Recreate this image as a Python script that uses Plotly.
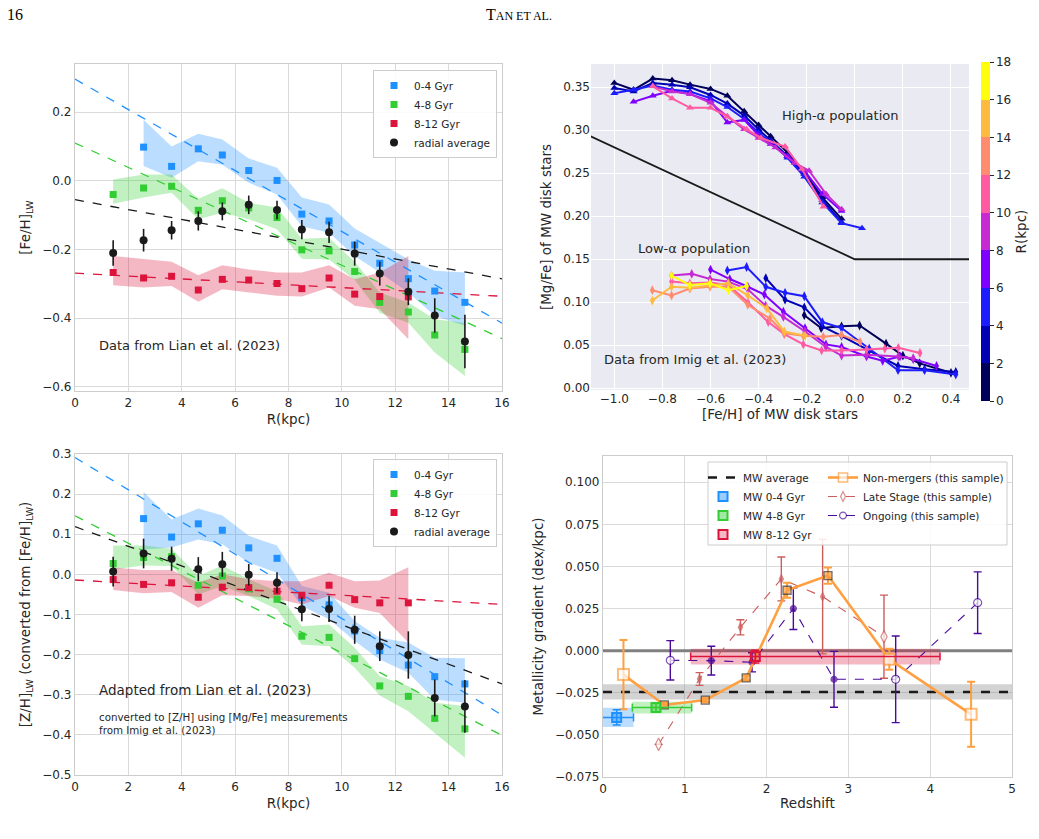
import plotly.graph_objects as go

W, H = 1039, 839


def fx(p):
    return p / W


def fy(p):
    return 1 - p / H


# ---------------- Panel A / C : radial bins (Lian et al. 2023) ----------------
R_KPC = [1.43, 2.57, 3.62, 4.62, 5.52, 6.51, 7.57, 8.50, 9.52, 10.48, 11.42, 12.49, 13.48, 14.61]
R_YOUNG = R_KPC[1:]
R_OLD = R_KPC[:12]

# [Fe/H]_LW
FEH_YOUNG = [0.098, 0.042, 0.093, 0.075, 0.030, 0.001, -0.097, -0.117, -0.187, -0.240, -0.285, -0.321, -0.354]
FEH_YOUNG_HI = [0.178, 0.100, 0.137, 0.120, 0.065, 0.038, -0.049, -0.069, -0.139, -0.182, -0.229, -0.262, -0.267]
FEH_YOUNG_LO = [0.043, 0.009, 0.057, 0.047, -0.006, -0.040, -0.132, -0.151, -0.219, -0.267, -0.325, -0.393, -0.422]
FEH_MID = [-0.040, -0.021, -0.016, -0.086, -0.058, -0.079, -0.107, -0.201, -0.204, -0.264, -0.354, -0.382, -0.449, -0.491]
FEH_MID_HI = [0.004, 0.018, 0.018, -0.052, -0.022, -0.064, -0.078, -0.169, -0.166, -0.236, -0.325, -0.354, -0.403, -0.413]
FEH_MID_LO = [-0.067, -0.049, -0.035, -0.112, -0.093, -0.112, -0.141, -0.227, -0.229, -0.289, -0.384, -0.413, -0.500, -0.568]
FEH_OLD = [-0.267, -0.283, -0.278, -0.318, -0.287, -0.289, -0.299, -0.314, -0.283, -0.330, -0.337, -0.338]
FEH_OLD_HI = [-0.219, -0.229, -0.236, -0.275, -0.246, -0.258, -0.267, -0.267, -0.246, -0.287, -0.267, -0.219]
FEH_OLD_LO = [-0.304, -0.311, -0.306, -0.352, -0.316, -0.325, -0.335, -0.337, -0.311, -0.364, -0.374, -0.461]
FEH_AVG = [-0.210, -0.173, -0.144, -0.117, -0.089, -0.070, -0.085, -0.142, -0.150, -0.212, -0.270, -0.323, -0.392, -0.468]
FEH_AVG_ERR = [0.037, 0.033, 0.027, 0.028, 0.026, 0.027, 0.027, 0.028, 0.031, 0.035, 0.035, 0.039, 0.050, 0.078]
# linear fits (intercept, slope)
FEH_FIT_INT = {"young": 0.296, "mid": 0.110, "old": -0.269, "avg": -0.055}
FEH_FIT_SLOPE = {"young": -0.0444, "mid": -0.0356, "old": -0.0042, "avg": -0.0144}

# [Z/H]_LW
ZH_YOUNG = [0.139, 0.093, 0.126, 0.110, 0.066, 0.040, -0.058, -0.076, -0.141, -0.190, -0.226, -0.255, -0.273]
ZH_YOUNG_HI = [0.205, 0.137, 0.164, 0.147, 0.096, 0.072, -0.029, -0.046, -0.116, -0.158, -0.170, -0.208, -0.209]
ZH_YOUNG_LO = [0.062, 0.067, 0.087, 0.075, 0.029, 0.004, -0.079, -0.112, -0.166, -0.212, -0.245, -0.312, -0.320]
ZH_MID = [0.027, 0.042, 0.044, -0.027, -0.004, -0.036, -0.062, -0.154, -0.157, -0.210, -0.278, -0.304, -0.359, -0.385]
ZH_MID_HI = [0.072, 0.072, 0.064, -0.004, 0.022, -0.012, -0.042, -0.129, -0.125, -0.183, -0.254, -0.278, -0.320, -0.328]
ZH_MID_LO = [0.012, 0.022, 0.021, -0.050, -0.029, -0.054, -0.087, -0.175, -0.179, -0.233, -0.302, -0.341, -0.395, -0.457]
ZH_OLD = [-0.013, -0.025, -0.021, -0.057, -0.032, -0.033, -0.042, -0.052, -0.027, -0.063, -0.071, -0.071]
ZH_OLD_HI = [0.017, 0.011, 0.011, -0.021, 0.000, -0.012, -0.017, -0.017, 0.004, -0.017, -0.015, 0.018]
ZH_OLD_LO = [-0.039, -0.047, -0.044, -0.083, -0.052, -0.054, -0.061, -0.075, -0.054, -0.083, -0.096, -0.170]
ZH_AVG = [0.007, 0.052, 0.039, 0.013, 0.025, -0.001, -0.021, -0.087, -0.086, -0.138, -0.179, -0.201, -0.308, -0.329]
ZH_AVG_ERR = [0.037, 0.037, 0.030, 0.030, 0.031, 0.027, 0.026, 0.030, 0.033, 0.035, 0.037, 0.059, 0.046, 0.066]
ZH_FIT_INT = {"young": 0.291, "mid": 0.146, "old": -0.014, "avg": 0.119}
ZH_FIT_SLOPE = {"young": -0.0401, "mid": -0.0342, "old": -0.0038, "avg": -0.0245}

R_RANGE = [0, 16]

# ---------------- Panel B : [Mg/Fe] vs [Fe/H] (Imig et al. 2023) ----------------
HIGH_R = [1, 3, 5, 7, 9, 11]
HIGH_FEH = [
    [-1.00, -0.92, -0.84, -0.76, -0.685, -0.60, -0.53, -0.46, -0.40, -0.35, -0.28, -0.21, -0.135, -0.055],
    [-1.00, -0.92, -0.84, -0.76, -0.685, -0.60, -0.53, -0.46, -0.40, -0.35, -0.28, -0.21, -0.135, -0.055],
    [-1.00, -0.92, -0.84, -0.76, -0.685, -0.60, -0.53, -0.46, -0.40, -0.35, -0.28, -0.21, -0.135, -0.055, 0.03],
    [-0.92, -0.84, -0.76, -0.685, -0.60, -0.53, -0.46, -0.40, -0.35, -0.28, -0.21, -0.135, -0.055],
    [-0.84, -0.76, -0.685, -0.60, -0.53, -0.46, -0.40, -0.33, -0.25, -0.19, -0.12, -0.055],
    [-0.84, -0.76, -0.685, -0.60, -0.53, -0.45, -0.39, -0.29, -0.22, -0.13],
]
HIGH_MGFE = [
    [0.355, 0.347, 0.360, 0.358, 0.353, 0.348, 0.340, 0.322, 0.306, 0.293, 0.274, 0.251, 0.222, 0.197],
    [0.349, 0.345, 0.355, 0.353, 0.350, 0.341, 0.331, 0.317, 0.301, 0.288, 0.270, 0.249, 0.219, 0.193],
    [0.343, 0.347, 0.352, 0.347, 0.345, 0.337, 0.327, 0.313, 0.297, 0.286, 0.268, 0.246, 0.216, 0.192, 0.186],
    [0.333, 0.340, 0.346, 0.342, 0.334, 0.309, 0.312, 0.294, 0.284, 0.270, 0.253, 0.226, 0.206],
    [0.351, 0.345, 0.342, 0.332, 0.316, 0.301, 0.291, 0.280, 0.262, 0.253, 0.226, 0.208],
    [0.351, 0.337, 0.326, 0.326, 0.316, 0.301, 0.291, 0.281, 0.255, 0.211],
]
LOW_R = [1, 3, 5, 7, 9, 11, 13, 15, 17]
LOW_FEH = [
    [-0.21, -0.14, -0.055, 0.02, 0.13, 0.20, 0.27, 0.40],
    [-0.37, -0.29, -0.21, -0.135, -0.055, 0.06, 0.18, 0.29, 0.42],
    [-0.53, -0.45, -0.37, -0.29, -0.21, -0.135, -0.055, 0.06, 0.18, 0.29, 0.42],
    [-0.60, -0.52, -0.445, -0.376, -0.297, -0.207, -0.12, -0.055, 0.049, 0.116, 0.188, 0.243, 0.34],
    [-0.762, -0.678, -0.602, -0.526, -0.445, -0.371, -0.297, -0.207, -0.12, -0.055, 0.049, 0.181, 0.243],
    [-0.762, -0.686, -0.602, -0.526, -0.445, -0.36, -0.293, -0.214, -0.138, -0.055, 0.049, 0.125, 0.181, 0.271],
    [-0.842, -0.762, -0.686, -0.602, -0.526, -0.445, -0.353, -0.293, -0.214, -0.131, -0.055, 0.022],
    [-0.842, -0.762, -0.686, -0.602, -0.526, -0.445, -0.366, -0.293, -0.207],
    [-0.762, -0.686, -0.602, -0.526, -0.45],
]
LOW_MGFE = [
    [0.085, 0.070, 0.072, 0.073, 0.052, 0.038, 0.029, 0.018],
    [0.128, 0.103, 0.094, 0.072, 0.061, 0.044, 0.026, 0.022, 0.019],
    [0.137, 0.141, 0.118, 0.111, 0.107, 0.077, 0.070, 0.046, 0.021, 0.021, 0.016],
    [0.138, 0.127, 0.118, 0.109, 0.089, 0.070, 0.051, 0.048, 0.037, 0.032, 0.037, 0.034, 0.026],
    [0.131, 0.133, 0.127, 0.124, 0.115, 0.096, 0.083, 0.066, 0.048, 0.038, 0.039, 0.037, 0.035],
    [0.124, 0.122, 0.123, 0.120, 0.100, 0.077, 0.063, 0.051, 0.044, 0.044, 0.045, 0.046, 0.047, 0.041],
    [0.114, 0.108, 0.116, 0.118, 0.118, 0.097, 0.081, 0.064, 0.061, 0.060, 0.062, 0.054],
    [0.102, 0.118, 0.117, 0.120, 0.122, 0.108, 0.093, 0.066, 0.061],
    [0.131, 0.120, 0.122, 0.114, 0.119],
]
DIV_FEH = [-1.1, 0.0, 0.5]
DIV_MGFE = [0.293, 0.15, 0.15]
CBAR_TICKS = [0, 2, 4, 6, 8, 10, 12, 14, 16, 18]
CBAR_COLORS = ["#00005a", "#0000b4", "#1c1cff", "#8000ff", "#c62ad2",
               "#ff5aa2", "#ff8c6e", "#ffbb40", "#ffff0c"]

# ---------------- Panel D : metallicity gradient vs redshift ----------------
MW_NAMES = ["MW 0-4 Gyr", "MW 4-8 Gyr", "MW 8-12 Gyr"]
MW_Z = [0.167, 0.648, 1.862]
MW_Z_LO = [-0.10, 0.358, 1.072]
MW_Z_HI = [0.373, 1.084, 4.12]
MW_GRAD = [-0.0396, -0.0338, -0.0035]
MW_GRAD_ERR = [0.0057, 0.0035, 0.0047]
MW_AVG = -0.0245
MW_AVG_ERR = 0.0045
ZERO_GRAD = 0.0

NM_Z = [0.25, 0.75, 1.25, 1.75, 2.25, 2.75, 3.5, 4.5]
NM_GRAD = [-0.0142, -0.0322, -0.0293, -0.0162, 0.0359, 0.0446, -0.0051, -0.0378]
NM_ERR = [0.0205, 0.0015, 0.0012, 0.0015, 0.0045, 0.0048, 0.0062, 0.0193]
NM_OPEN = [True, False, False, False, False, False, True, True]

LS_Z = [0.68, 1.18, 1.68, 2.18, 2.685, 3.435]
LS_GRAD = [-0.0556, -0.0168, 0.0139, 0.0426, 0.0321, 0.0083]
LS_ERR = [None, 0.0038, 0.0045, 0.013, 0.034, 0.0247]
LS_OPEN = [True, False, False, False, False, True]

OG_Z = [0.823, 1.324, 1.822, 2.327, 2.824, 3.578, 4.58]
OG_GRAD = [-0.0057, -0.0059, -0.0069, 0.0250, -0.0170, -0.0170, 0.0285]
OG_ERR = [0.0117, 0.0085, 0.0057, 0.0124, 0.0166, 0.0257, 0.0183]
OG_OPEN = [True, False, False, False, False, True, True]

Z_RANGE = [0, 5]

# ---------------- styles ----------------
BLUE, GREEN, RED = "#1e90ff", "#32cd32", "#dc143c"
BLUE_A, GREEN_A, RED_A = "rgba(30,144,255,0.30)", "rgba(50,205,50,0.30)", "rgba(220,20,60,0.30)"
ORANGE, INDIANRED, INDIGO = "#ff9f40", "#cd5c5c", "#4b0a9a"
TXT = "#262626"

fig = go.Figure()


def band(xs, lo, hi, color, xa, ya):
    return go.Scatter(x=list(xs) + list(xs)[::-1], y=list(hi) + list(lo)[::-1],
                      fill="toself", fillcolor=color, line=dict(width=0), mode="lines",
                      hoverinfo="skip", showlegend=False, xaxis=xa, yaxis=ya)


def radial_panel(xa, ya, leg, young, yhi, ylo, mid, mhi, mlo, old, ohi, olo, avg, avg_err, fint, fslope):
    fig.add_trace(band(R_YOUNG, ylo, yhi, BLUE_A, xa, ya))
    fig.add_trace(band(R_KPC, mlo, mhi, GREEN_A, xa, ya))
    fig.add_trace(band(R_OLD, olo, ohi, RED_A, xa, ya))
    for key, col in [("young", BLUE), ("mid", GREEN), ("old", RED), ("avg", "#1a1a1a")]:
        fig.add_trace(go.Scatter(
            x=R_RANGE, y=[fint[key] + fslope[key] * r for r in R_RANGE], mode="lines",
            line=dict(color=col, width=1.3, dash="dash"), showlegend=False,
            xaxis=xa, yaxis=ya, hoverinfo="skip"))
    for xs, ys, col, name in [(R_YOUNG, young, BLUE, "0-4 Gyr"), (R_KPC, mid, GREEN, "4-8 Gyr"),
                              (R_OLD, old, RED, "8-12 Gyr")]:
        fig.add_trace(go.Scatter(x=xs, y=ys, mode="markers", name=name,
                                 marker=dict(symbol="square", size=7, color=col),
                                 xaxis=xa, yaxis=ya, legend=leg))
    fig.add_trace(go.Scatter(x=R_KPC, y=avg, mode="markers", name="radial average",
                             marker=dict(symbol="circle", size=8, color="#1a1a1a"),
                             error_y=dict(type="data", array=avg_err, color="#1a1a1a",
                                          thickness=1.6, width=0),
                             xaxis=xa, yaxis=ya, legend=leg))


radial_panel("x", "y", "legend", FEH_YOUNG, FEH_YOUNG_HI, FEH_YOUNG_LO, FEH_MID, FEH_MID_HI, FEH_MID_LO,
             FEH_OLD, FEH_OLD_HI, FEH_OLD_LO, FEH_AVG, FEH_AVG_ERR, FEH_FIT_INT, FEH_FIT_SLOPE)
radial_panel("x3", "y3", "legend2", ZH_YOUNG, ZH_YOUNG_HI, ZH_YOUNG_LO, ZH_MID, ZH_MID_HI, ZH_MID_LO,
             ZH_OLD, ZH_OLD_HI, ZH_OLD_LO, ZH_AVG, ZH_AVG_ERR, ZH_FIT_INT, ZH_FIT_SLOPE)


# ---------------- Panel B traces ----------------
def rcolor(r):
    return CBAR_COLORS[min(int(r // 2), len(CBAR_COLORS) - 1)]


fig.add_trace(go.Scatter(x=DIV_FEH, y=DIV_MGFE, mode="lines", line=dict(color="#1a1a1a", width=1.8),
                         showlegend=False, xaxis="x2", yaxis="y2", hoverinfo="skip"))
for r, xs, ys in zip(HIGH_R, HIGH_FEH, HIGH_MGFE):
    fig.add_trace(go.Scatter(x=xs, y=ys, mode="lines+markers",
                             line=dict(color=rcolor(r), width=2),
                             marker=dict(symbol="triangle-up", size=7, color=rcolor(r)),
                             showlegend=False, xaxis="x2", yaxis="y2"))
for r, xs, ys in zip(LOW_R, LOW_FEH, LOW_MGFE):
    fig.add_trace(go.Scatter(x=xs, y=ys, mode="lines+markers",
                             line=dict(color=rcolor(r), width=2),
                             marker=dict(symbol="diamond-tall", size=7, color=rcolor(r)),
                             showlegend=False, xaxis="x2", yaxis="y2"))
cscale = []
for i, c in enumerate(CBAR_COLORS):
    cscale.append([i / len(CBAR_COLORS), c])
    cscale.append([(i + 1) / len(CBAR_COLORS), c])
fig.add_trace(go.Scatter(
    x=[None], y=[None], mode="markers", showlegend=False, xaxis="x2", yaxis="y2",
    marker=dict(color=[0], colorscale=cscale, cmin=CBAR_TICKS[0], cmax=CBAR_TICKS[-1], showscale=True,
                colorbar=dict(x=fx(981), xanchor="left", xpad=0, y=fy(231.5), yanchor="middle",
                              len=339, lenmode="pixels", ypad=0, thickness=9, outlinewidth=0,
                              tickvals=CBAR_TICKS, ticks="outside", ticklen=4, tickwidth=1,
                              tickcolor=TXT, tickfont=dict(size=12, color=TXT),
                              title=dict(text="R(kpc)", side="right", font=dict(size=13.5, color=TXT))))))

# ---------------- Panel D traces ----------------
# MW average band and zero line
fig.add_trace(go.Scatter(x=[Z_RANGE[0], Z_RANGE[1], Z_RANGE[1], Z_RANGE[0], Z_RANGE[0]],
                         y=[MW_AVG - MW_AVG_ERR, MW_AVG - MW_AVG_ERR, MW_AVG + MW_AVG_ERR,
                            MW_AVG + MW_AVG_ERR, MW_AVG - MW_AVG_ERR],
                         fill="toself", fillcolor="rgba(128,128,128,0.35)", line=dict(width=0),
                         mode="lines", showlegend=False, xaxis="x4", yaxis="y4", hoverinfo="skip"))
fig.add_trace(go.Scatter(x=Z_RANGE, y=[ZERO_GRAD, ZERO_GRAD], mode="lines",
                         line=dict(color="#808080", width=3), showlegend=False,
                         xaxis="x4", yaxis="y4", hoverinfo="skip"))

for name, zc, zlo, zhi, g, ge, col, cola in zip(MW_NAMES, MW_Z, MW_Z_LO, MW_Z_HI, MW_GRAD, MW_GRAD_ERR,
                                                 [BLUE, GREEN, RED], [BLUE_A, GREEN_A, RED_A]):
    fig.add_trace(go.Scatter(x=[zlo, zhi, zhi, zlo, zlo], y=[g - ge, g - ge, g + ge, g + ge, g - ge],
                             fill="toself", fillcolor=cola, line=dict(width=0), mode="lines",
                             showlegend=False, xaxis="x4", yaxis="y4", hoverinfo="skip"))

fig.add_trace(go.Scatter(x=Z_RANGE, y=[MW_AVG, MW_AVG], mode="lines", name="MW average",
                         line=dict(color="#1a1a1a", width=2.6, dash="dash"),
                         xaxis="x4", yaxis="y4", legend="legend3"))

fig.add_trace(go.Scatter(
    x=LS_Z, y=LS_GRAD, mode="lines+markers", name="Late Stage (this sample)",
    line=dict(color=INDIANRED, width=1.1, dash="dash"),
    marker=dict(symbol="diamond-tall", size=[9 if o else 6 for o in LS_OPEN],
                color=["white" if o else INDIANRED for o in LS_OPEN],
                line=dict(color=INDIANRED, width=1.2)),
    error_y=dict(type="data", array=LS_ERR, color=INDIANRED, thickness=1.4, width=4),
    xaxis="x4", yaxis="y4", legend="legend4", legendrank=2))
fig.add_trace(go.Scatter(
    x=OG_Z, y=OG_GRAD, mode="lines+markers", name="Ongoing (this sample)",
    line=dict(color=INDIGO, width=1.1, dash="dash"),
    marker=dict(symbol="circle", size=[8 if o else 6 for o in OG_OPEN],
                color=["white" if o else INDIGO for o in OG_OPEN],
                line=dict(color=INDIGO, width=1.2)),
    error_y=dict(type="data", array=OG_ERR, color=INDIGO, thickness=1.4, width=4),
    xaxis="x4", yaxis="y4", legend="legend4", legendrank=3))
fig.add_trace(go.Scatter(
    x=NM_Z, y=NM_GRAD, mode="lines+markers", name="Non-mergers (this sample)",
    line=dict(color=ORANGE, width=2.6),
    marker=dict(symbol="square", size=[11 if o else 8 for o in NM_OPEN],
                color=["white" if o else ORANGE for o in NM_OPEN],
                line=dict(color=[ORANGE if o else "#333333" for o in NM_OPEN],
                          width=[2 if o else 1.3 for o in NM_OPEN])),
    error_y=dict(type="data", array=NM_ERR, color=ORANGE, thickness=2, width=4),
    xaxis="x4", yaxis="y4", legend="legend4", legendrank=1))

for name, zc, zlo, zhi, g, ge, col, cola in zip(MW_NAMES, MW_Z, MW_Z_LO, MW_Z_HI, MW_GRAD, MW_GRAD_ERR,
                                                 [BLUE, GREEN, RED],
                                                 ["rgba(30,144,255,0.45)", "rgba(50,205,50,0.45)",
                                                  "rgba(220,20,60,0.30)"]):
    fig.add_trace(go.Scatter(
        x=[zc], y=[g], mode="markers", name=name,
        marker=dict(symbol="square", size=9, color=cola, line=dict(color=col, width=2)),
        error_x=dict(type="data", symmetric=False, array=[zhi - zc], arrayminus=[zc - zlo],
                     color=col, thickness=1.5, width=4),
        error_y=dict(type="data", array=[ge * 0.8], color=col, thickness=1.5, width=4),
        xaxis="x4", yaxis="y4", legend="legend3"))

# ---------------- axes ----------------
tickfont = dict(size=12, color=TXT)
titlefont = dict(size=13.5, color=TXT)
white_ax = dict(showgrid=True, gridcolor="#dadada", gridwidth=1.3, showline=True, linecolor="#cccccc",
                linewidth=1.3, mirror=True, zeroline=False, ticks="", tickfont=tickfont)
dark_ax = dict(showgrid=True, gridcolor="white", gridwidth=1.4, showline=False, zeroline=False,
               ticks="", tickfont=tickfont)

layout = dict(
    width=W, height=H, margin=dict(l=0, r=0, t=0, b=0), autosize=False, template="none",
    paper_bgcolor="white", plot_bgcolor="white",
    font=dict(family="DejaVu Sans", color=TXT),
    xaxis=dict(white_ax, domain=[fx(75), fx(502)], range=R_RANGE, dtick=2, tick0=0, anchor="y",
               title=dict(text="R(kpc)", font=titlefont, standoff=6)),
    yaxis=dict(white_ax, domain=[fy(391), fy(64)], range=[-0.612, 0.34], dtick=0.2, tick0=0,
               tickformat=".1f", anchor="x",
               title=dict(text="[Fe/H]<sub>LW</sub>", font=titlefont, standoff=8)),
    xaxis2=dict(dark_ax, domain=[fx(591), fx(969)], range=[-1.097, 0.475], dtick=0.2, tick0=0,
                tickformat=".1f", anchor="y2",
                title=dict(text="[Fe/H] of MW disk stars", font=titlefont, standoff=4)),
    yaxis2=dict(dark_ax, domain=[fy(390), fy(64)], range=[-0.002, 0.377], dtick=0.05, tick0=0,
                tickformat=".2f", anchor="x2",
                title=dict(text="[Mg/Fe] of MW disk stars", font=titlefont, standoff=8)),
    xaxis3=dict(white_ax, domain=[fx(75), fx(502)], range=R_RANGE, dtick=2, tick0=0, anchor="y3",
                title=dict(text="R(kpc)", font=titlefont, standoff=6)),
    yaxis3=dict(white_ax, domain=[fy(775), fy(454)], range=[-0.5, 0.3], dtick=0.1, tick0=0,
                tickformat=".1f", anchor="x3",
                title=dict(text="[Z/H]<sub>LW</sub> (converted from [Fe/H]<sub>LW</sub>)",
                           font=titlefont, standoff=8)),
    xaxis4=dict(white_ax, domain=[fx(603), fx(1012)], range=Z_RANGE, dtick=1, tick0=0, anchor="y4",
                title=dict(text="Redshift", font=titlefont, standoff=4)),
    yaxis4=dict(white_ax, domain=[fy(777), fy(456)], range=[-0.075, 0.1156], dtick=0.025, tick0=-0.075,
                tickformat=".3f", anchor="x4",
                title=dict(text="Metallicity gradient (dex/kpc)", font=titlefont, standoff=8)),
    legend=dict(x=fx(497), xanchor="right", y=fy(70), yanchor="top", bgcolor="rgba(255,255,255,0.85)",
                bordercolor="#cccccc", borderwidth=1, font=dict(size=10.5, color=TXT), tracegroupgap=0),
    legend2=dict(x=fx(497), xanchor="right", y=fy(459), yanchor="top", bgcolor="rgba(255,255,255,0.85)",
                 bordercolor="#cccccc", borderwidth=1, font=dict(size=10.5, color=TXT), tracegroupgap=0),
    legend3=dict(x=fx(703), xanchor="left", y=fy(463), yanchor="top", bgcolor="rgba(0,0,0,0)",
                 borderwidth=0, font=dict(size=10.5, color=TXT), tracegroupgap=0),
    legend4=dict(x=fx(823), xanchor="left", y=fy(463), yanchor="top", bgcolor="rgba(0,0,0,0)",
                 borderwidth=0, font=dict(size=10.5, color=TXT), tracegroupgap=0, traceorder="normal"),
)
fig.update_layout(**layout)

# shapes
fig.add_shape(type="rect", xref="x2 domain", yref="y2 domain", x0=0, x1=1, y0=0, y1=1,
              fillcolor="#eaeaf2", line=dict(width=0), layer="below")
fig.add_shape(type="rect", xref="paper", yref="paper", x0=fx(708), x1=fx(1007), y0=fy(545), y1=fy(462),
              fillcolor="rgba(255,255,255,0.85)", line=dict(color="#cccccc", width=1), layer="above")

# annotations
ann = [
    dict(text="Data from Lian et al. (2023)", xref="x", yref="y", x=0.81, y=-0.48,
         xanchor="left", yanchor="middle", font=dict(size=13, color=TXT)),
    dict(text="High-α population", xref="x2", yref="y2", x=-0.311, y=0.317,
         xanchor="left", yanchor="middle", font=dict(size=13, color=TXT)),
    dict(text="Low-α population", xref="x2", yref="y2", x=-0.91, y=0.163,
         xanchor="left", yanchor="middle", font=dict(size=13, color=TXT)),
    dict(text="Data from Imig et al. (2023)", xref="x2", yref="y2", x=-1.05, y=0.034,
         xanchor="left", yanchor="middle", font=dict(size=13, color=TXT)),
    dict(text="Adapted from Lian et al. (2023)", xref="x3", yref="y3", x=0.81, y=-0.287,
         xanchor="left", yanchor="middle", font=dict(size=13.5, color=TXT)),
    dict(text="converted to [Z/H] using [Mg/Fe] measurements<br>from Imig et al. (2023)",
         xref="x3", yref="y3", x=0.81, y=-0.335, xanchor="left", yanchor="top", align="left",
         font=dict(size=10.3, color=TXT)),
    dict(text="16", xref="paper", yref="paper", x=fx(5), y=fy(15), xanchor="left", yanchor="middle",
         font=dict(size=16, family="Liberation Serif", color="black")),
    dict(text="T<span style='font-size:12px'>AN ET AL.</span>", xref="paper", yref="paper",
         x=fx(519), y=fy(15), xanchor="center", yanchor="middle",
         font=dict(size=16, family="Liberation Serif", color="black")),
]
for a in ann:
    a["showarrow"] = False
    fig.add_annotation(**a)

fig.write_html("out.html")
